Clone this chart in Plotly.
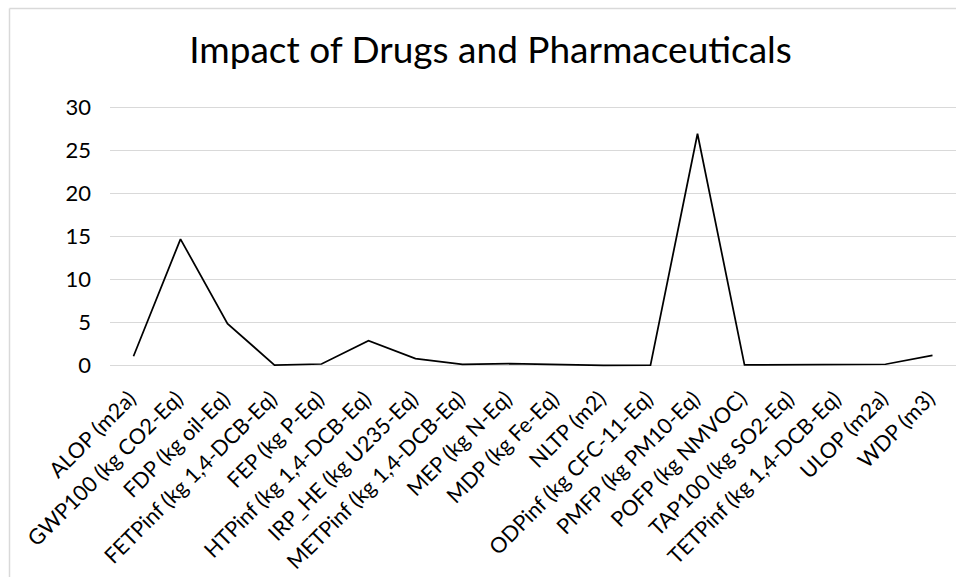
import plotly.graph_objects as go

# Impact categories and their characterised results
categories = [
    "ALOP (m2a)", "GWP100 (kg CO2-Eq)", "FDP (kg oil-Eq)",
    "FETPinf (kg 1,4-DCB-Eq)", "FEP (kg P-Eq)", "HTPinf (kg 1,4-DCB-Eq)",
    "IRP_HE (kg U235-Eq)", "METPinf (kg 1,4-DCB-Eq)", "MEP (kg N-Eq)",
    "MDP (kg Fe-Eq)", "NLTP (m2)", "ODPinf (kg CFC-11-Eq)",
    "PMFP (kg PM10-Eq)", "POFP (kg NMVOC)", "TAP100 (kg SO2-Eq)",
    "TETPinf (kg 1,4-DCB-Eq)", "ULOP (m2a)", "WDP (m3)",
]
values = [1.05, 14.7, 4.85, 0.02, 0.15, 2.87, 0.77, 0.1, 0.18,
          0.05, 0.0, 0.01, 26.97, 0.05, 0.05, 0.05, 0.12, 1.16]

y_ticks = [0, 5, 10, 15, 20, 25, 30]

FONT = "Lato, Carlito, Calibri, sans-serif"

# Rotated category labels, padded so they end just left of each tick
tick_labels = [c + "\u00a0" for c in categories]

fig = go.Figure(
    go.Scatter(
        x=categories,
        y=values,
        mode="lines",
        line=dict(color="#000000", width=1.75),
        hoverinfo="x+y",
    )
)

fig.update_layout(
    width=956,
    height=577,
    margin=dict(l=110, r=0, t=106, b=210),
    paper_bgcolor="#ffffff",
    plot_bgcolor="#ffffff",
    showlegend=False,
    font=dict(family=FONT, color="#000000", size=21),
    title=dict(
        text="Impact of Drugs and Pharmaceuticals",
        font=dict(family=FONT, size=37, color="#000000"),
        x=490.5 / 956, xref="container", xanchor="center",
        y=1 - 50 / 577, yref="container", yanchor="middle",
        automargin=False,
    ),
    xaxis=dict(
        type="category",
        tickangle=-45,
        tickmode="array",
        tickvals=categories,
        ticktext=tick_labels,
        showgrid=False,
        showline=False,
        ticks="",
        zeroline=False,
        automargin=False,
        range=[-0.5, len(categories) - 0.5],
        ticklabelstandoff=10,
        tickfont=dict(family=FONT, size=21.5),
    ),
    yaxis=dict(
        range=[-0.2, 30.2],
        tickvals=y_ticks,
        showgrid=True,
        gridcolor="#d9d9d9",
        gridwidth=1,
        zeroline=False,
        showline=False,
        ticks="",
        automargin=False,
        ticklabelstandoff=18,
        tickfont=dict(family=FONT, size=22),
    ),
)

# Chart-area border (left and top edges)
border = dict(color="#d9d9d9", width=1.5)
fig.add_shape(type="line", xref="paper", yref="paper",
              x0=(9.5 - 110) / 846, x1=1.2,
              y0=(367 - 8.5) / 261, y1=(367 - 8.5) / 261, line=border)
fig.add_shape(type="line", xref="paper", yref="paper",
              x0=(9.5 - 110) / 846, x1=(9.5 - 110) / 846,
              y0=(367 - 8.5) / 261, y1=-1.0, line=border)

fig.write_html("out.html")
